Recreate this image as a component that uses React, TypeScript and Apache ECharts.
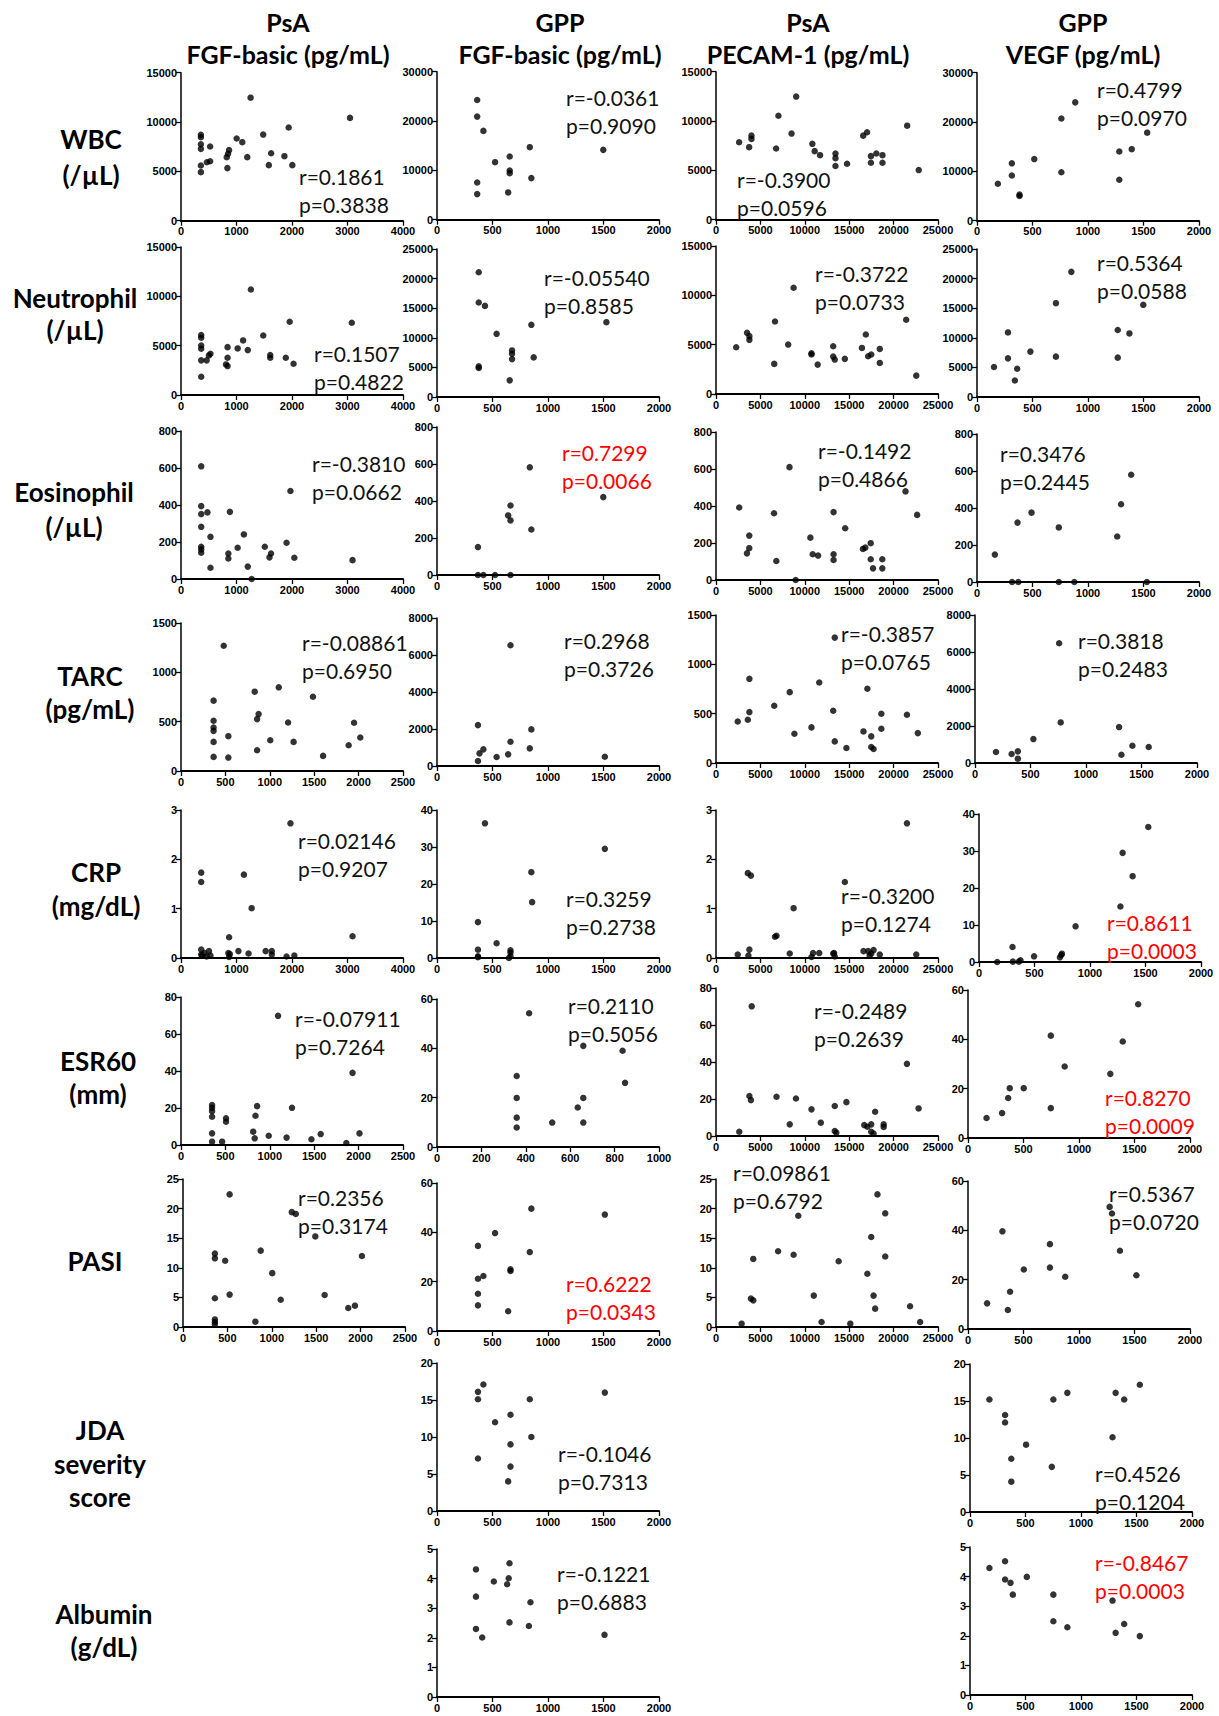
import React, { useEffect, useRef } from "react";
import * as echarts from "echarts";

// ---------- data (x = cytokine, y = clinical value) ----------
const wbcPsaFgf = [[358,8700],[358,8460],[358,7750],[358,7280],[358,5600],[358,4920],[466,5930],[525,6030],[525,7520],[824,6440],[848,6780],[866,7150],[836,5330],[1003,8330],[1104,7960],[1194,6440],[1254,12470],[1481,8730],[1624,6840],[1582,5630],[1863,6540],[1940,9440],[2006,5630],[3045,10420]];
const wbcGppFgf = [[362,24270],[362,20900],[418,18000],[362,7550],[362,5190],[523,11660],[655,12800],[655,9980],[655,9440],[641,5530],[836,14700],[850,8430],[1498,14160]];
const wbcPsaPecam = [[2604,7850],[3733,7350],[3993,8520],[3993,8190],[6771,7220],[7031,10540],[8507,8730],[9028,12480],[10851,7690],[11111,6950],[11719,6540],[13455,6710],[13455,6240],[13455,5440],[14757,5670],[16580,8520],[17014,8860],[17448,6440],[17448,5770],[18056,6710],[18750,6540],[18750,5770],[21528,9530],[22830,5030]];
const wbcGppVegf = [[188,7480],[314,11630],[314,9150],[383,5280],[383,5010],[516,12490],[760,20710],[760,9820],[885,23990],[1282,14030],[1282,8290],[1394,14500],[1533,17840]];

const neuPsaFgf = [[364,6070],[364,5800],[364,5020],[364,4690],[364,3510],[364,1850],[462,3510],[503,4010],[531,4180],[839,4850],[839,3780],[811,3100],[839,2930],[1021,4720],[1119,5530],[1203,4550],[1259,10690],[1482,6030],[1608,3780],[1608,4050],[1888,3780],[1958,7420],[2028,3170],[3077,7320]];
const neuGppFgf = [[376,21070],[376,15960],[432,15390],[376,5170],[376,4890],[537,10670],[676,7870],[676,7300],[676,6400],[655,2810],[850,12190],[871,6690],[1526,12640]];
const neuPsaPecam = [[2273,4740],[3497,6200],[3759,5860],[3759,5490],[6556,3050],[6643,7350],[8129,5010],[8741,10770],[10752,4130],[10752,4000],[11451,2980],[13199,4840],[13199,3790],[13374,3490],[14510,3560],[16434,4670],[16871,6030],[17133,3830],[17483,4000],[18444,4570],[18444,3150],[21416,7520],[22552,1860]];
const neuGppVegf = [[153,5060],[279,10910],[279,6530],[341,2780],[362,4770],[481,7670],[711,15850],[711,6820],[850,21140],[1268,11310],[1268,6650],[1373,10740],[1498,15570]];

const eosPsaFgf = [[364,609],[364,394],[364,351],[364,282],[364,174],[364,160],[364,142],[476,360],[531,228],[531,61],[881,363],[853,138],[853,111],[1021,169],[1133,241],[1203,67],[1273,0],[1510,174],[1622,138],[1594,117],[1902,196],[1972,476],[2042,115],[3091,102]];
const eosGppFgf = [[369,151],[369,0],[418,0],[523,0],[662,0],[641,322],[662,376],[662,295],[836,582],[850,246],[1498,421]];
const eosPsaPecam = [[2613,392],[3484,144],[3745,172],[3745,240],[6533,361],[6794,103],[8275,610],[8972,0],[10627,229],[10889,139],[11498,132],[13240,367],[13240,139],[13240,108],[14547,280],[16551,168],[16812,175],[17422,199],[17422,112],[17683,63],[18728,112],[18728,63],[21341,479],[22648,352]];
const eosGppVegf = [[161,148],[316,0],[372,0],[365,321],[491,375],[737,295],[737,0],[877,0],[1263,246],[1298,420],[1389,580],[1530,0]];

const tarcPsaFgf = [[367,713],[367,509],[367,441],[367,407],[367,295],[367,143],[481,1269],[533,353],[533,136],[830,804],[874,577],[857,526],[857,210],[1005,312],[1101,848],[1206,492],[1268,295],[1486,753],[1600,153],[1888,261],[1949,489],[2019,339]];
const tarcGppFgf = [[369,2211],[383,683],[369,270],[418,899],[537,485],[641,629],[662,1312],[662,6526],[836,953],[850,1978],[1512,503]];
const tarcPsaPecam = [[2448,421],[3584,438],[3759,516],[3759,853],[6556,580],[8304,718],[8829,297],[10752,361],[11626,816],[13199,529],[13374,219],[13374,1271],[14685,152],[16608,320],[17045,752],[17483,270],[17483,162],[17745,142],[18619,499],[18619,347],[21503,489],[22727,303]];
const tarcGppVegf = [[189,593],[330,485],[386,629],[386,234],[526,1294],[758,6472],[772,2193],[1298,1942],[1319,449],[1418,935],[1565,863]];

const crpPsaFgf = [[364,1.73],[364,1.54],[364,0.17],[364,0.07],[420,0.10],[462,0.03],[504,0.14],[531,0.05],[867,0.42],[853,0.10],[867,0.02],[1035,0.14],[1133,1.69],[1217,0.09],[1273,1.01],[1525,0.14],[1636,0.14],[1636,0.07],[1902,0.03],[1972,2.73],[2042,0.05],[3091,0.44],[380,0.05],[880,0.08]];
const crpGppFgf = [[369,9.7],[369,2.25],[369,0.45],[432,36.4],[537,4.0],[662,2.07],[662,1.5],[648,0],[850,23.2],[857,15.1],[1512,29.5],[369,0.2],[662,0.5]];
const crpPsaPecam = [[2448,0.07],[3584,1.72],[3934,1.67],[3759,0.17],[6643,0.43],[6818,0.45],[8304,0.09],[8741,1.01],[10752,0.02],[10926,0.10],[11626,0.10],[13199,0.09],[13374,0.03],[14510,1.54],[16608,0.14],[17133,0.14],[17483,0.09],[17745,0.16],[18444,0.07],[21503,2.73],[22552,0.07],[3650,0.05],[13300,0.1],[17300,0.05]];
const crpGppVegf = [[164,0],[302,4.05],[305,0.1],[359,0.1],[374,0.45],[496,1.53],[729,1.26],[741,1.9],[747,2.25],[870,9.64],[1274,15.0],[1294,29.5],[1384,23.2],[1525,36.5]];

const esrPsaFgf = [[350,21.6],[350,20.1],[350,18.3],[350,15.3],[350,6.3],[350,1.8],[463,1.8],[507,14.4],[507,12.6],[813,7.2],[830,3.6],[839,15.8],[857,21.0],[988,5.0],[1093,69.8],[1189,4.0],[1250,20.1],[1469,3.1],[1573,5.9],[1862,1.1],[1932,39.0],[2010,6.3]];
const esrGppFgf = [[359,28.8],[359,19.9],[359,11.9],[359,7.9],[415,54.2],[519,9.9],[634,16.0],[659,41.0],[659,19.9],[659,9.9],[836,39.0],[847,26.0]];
const esrPsaPecam = [[2622,2.3],[3759,21.6],[3934,19.4],[4021,70.1],[6818,21.2],[8304,6.3],[9003,20.3],[10752,14.4],[11800,7.2],[13374,16.2],[13374,2.7],[13549,1.8],[14685,18.3],[16696,5.9],[17045,5.0],[17483,6.3],[17483,2.3],[17745,1.3],[17920,13.1],[18881,6.3],[18881,4.9],[21503,39.0],[22815,14.9]];
const esrGppVegf = [[167,8.1],[307,10.1],[362,16.2],[376,20.2],[502,20.2],[746,41.5],[746,12.1],[871,29.0],[1282,26.0],[1394,39.1],[1533,54.2]];

const pasiPsaFgf = [[359,12.4],[359,11.6],[359,4.85],[359,1.28],[359,0.84],[359,0.45],[475,11.2],[525,22.4],[525,5.47],[815,0.9],[875,12.9],[1005,9.1],[1100,4.6],[1225,19.4],[1270,19.1],[1490,15.3],[1595,5.4],[1861,3.2],[1936,3.6],[2015,12.0]];
const pasiGppFgf = [[369,34.5],[369,21.2],[369,15.1],[369,10.4],[418,22.3],[523,39.7],[641,8.0],[662,25.0],[662,24.3],[836,32.0],[850,49.6],[1512,47.2]];
const pasiPsaPecam = [[2885,0.56],[3934,4.8],[4196,4.5],[4196,11.5],[6993,12.8],[8741,12.2],[9266,18.8],[11014,5.3],[11888,0.84],[13811,11.1],[15122,0.56],[17045,9.0],[17483,15.2],[17745,5.3],[17920,3.1],[18182,22.4],[19056,19.2],[19056,11.9],[21853,3.5],[22989,0.84]];
const pasiGppVegf = [[172,10.4],[310,39.6],[359,7.7],[379,15.1],[503,24.1],[738,34.4],[738,24.9],[876,21.2],[1276,49.5],[1297,46.8],[1369,31.7],[1517,21.8]];

const jdaGppFgf = [[369,16.1],[369,15.1],[369,7.1],[418,17.1],[523,12.0],[662,13.0],[662,9.0],[662,6.0],[641,4.0],[836,15.1],[850,10.0],[1512,16.0]];
const jdaGppVegf = [[175,15.2],[316,13.1],[316,12.1],[372,7.2],[372,4.1],[505,9.1],[737,6.1],[751,15.2],[877,16.1],[1284,10.1],[1312,16.1],[1389,15.2],[1530,17.2]];

const albGppFgf = [[351,4.31],[351,3.39],[351,2.30],[407,2.01],[512,3.90],[632,3.81],[646,4.01],[653,4.52],[653,2.52],[828,2.40],[842,3.20],[1509,2.10]];
const albGppVegf = [[175,4.29],[316,4.52],[316,3.90],[365,3.79],[386,3.39],[512,3.99],[751,2.49],[751,3.39],[877,2.29],[1284,3.19],[1312,2.10],[1389,2.40],[1530,1.99]];

// ---------- texts ----------
const colHeaders = [["PsA", "FGF-basic (pg/mL)"], ["GPP", "FGF-basic (pg/mL)"], ["PsA", "PECAM-1 (pg/mL)"], ["GPP", "VEGF (pg/mL)"]];
const rowLabels = [["WBC", "(/µL)"], ["Neutrophil", "(/µL)"], ["Eosinophil", "(/µL)"], ["TARC", "(pg/mL)"], ["CRP", "(mg/dL)"], ["ESR60", "(mm)"], ["PASI"], ["JDA", "severity", "score"], ["Albumin", "(g/dL)"]];

// ---------- layout (pixels) ----------
const colCenters = [288, 560, 808, 1083];
const rowLabelPos = [[91, 139, 36], [75, 298, 32], [74, 492, 35], [90, 676, 33], [96, 872, 34], [98, 1061, 33], [95, 1261, 0], [100, 1430, 33.5], [104, 1614, 33]];

type Panel = { row: number; col: number; data: number[][]; xMax: number; xStep: number; yMax: number; yStep: number; r: string; p: string; tx: number; ty: number; red?: boolean; left: number; top: number };

const P = (row: number, col: number, data: number[][], xMax: number, xStep: number, yMax: number, yStep: number, r: string, p: string, tx: number, ty: number, left: number, top: number, red = false): Panel =>
  ({ row, col, data, xMax, xStep, yMax, yStep, r, p, tx, ty, left, top, red });

const panels: Panel[] = [
  P(0, 0, wbcPsaFgf, 4000, 1000, 15000, 5000, "r=0.1861", "p=0.3838", 299, 176, 181, 72.7),
  P(0, 1, wbcGppFgf, 2000, 500, 30000, 10000, "r=-0.0361", "p=0.9090", 566, 97, 437, 71.7),
  P(0, 2, wbcPsaPecam, 25000, 5000, 15000, 5000, "r=-0.3900", "p=0.0596", 737, 179, 716, 71.7),
  P(0, 3, wbcGppVegf, 2000, 500, 30000, 10000, "r=0.4799", "p=0.0970", 1097, 89, 977, 72.7),

  P(1, 0, neuPsaFgf, 4000, 1000, 15000, 5000, "r=0.1507", "p=0.4822", 314, 353, 181, 247),
  P(1, 1, neuGppFgf, 2000, 500, 25000, 5000, "r=-0.05540", "p=0.8585", 544, 277, 437, 249),
  P(1, 2, neuPsaPecam, 25000, 5000, 15000, 5000, "r=-0.3722", "p=0.0733", 815, 273, 716, 246),
  P(1, 3, neuGppVegf, 2000, 500, 25000, 5000, "r=0.5364", "p=0.0588", 1097, 262, 977, 249),

  P(2, 0, eosPsaFgf, 4000, 1000, 800, 200, "r=-0.3810", "p=0.0662", 312, 463, 181, 431),
  P(2, 1, eosGppFgf, 2000, 500, 800, 200, "r=0.7299", "p=0.0066", 562, 452, 437, 427, true),
  P(2, 2, eosPsaPecam, 25000, 5000, 800, 200, "r=-0.1492", "p=0.4866", 818, 450, 716, 432),
  P(2, 3, eosGppVegf, 2000, 500, 800, 200, "r=0.3476", "p=0.2445", 1000, 453, 977, 434),

  P(3, 0, tarcPsaFgf, 2500, 500, 1500, 500, "r=-0.08861", "p=0.6950", 302, 642, 181, 623),
  P(3, 1, tarcGppFgf, 2000, 500, 8000, 2000, "r=0.2968", "p=0.3726", 564, 640, 437, 618),
  P(3, 2, tarcPsaPecam, 25000, 5000, 1500, 500, "r=-0.3857", "p=0.0765", 841, 633, 716, 615),
  P(3, 3, tarcGppVegf, 2000, 500, 8000, 2000, "r=0.3818", "p=0.2483", 1078, 640, 975, 615),

  P(4, 0, crpPsaFgf, 4000, 1000, 3, 1, "r=0.02146", "p=0.9207", 298, 840, 181, 810),
  P(4, 1, crpGppFgf, 2000, 500, 40, 10, "r=0.3259", "p=0.2738", 566, 898, 437, 810),
  P(4, 2, crpPsaPecam, 25000, 5000, 3, 1, "r=-0.3200", "p=0.1274", 841, 895, 716, 810),
  P(4, 3, crpGppVegf, 2000, 500, 40, 10, "r=0.8611", "p=0.0003", 1107, 922, 979, 814, true),

  P(5, 0, esrPsaFgf, 2500, 500, 80, 20, "r=-0.07911", "p=0.7264", 295, 1018, 181, 997),
  P(5, 1, esrGppFgf, 1000, 200, 60, 20, "r=0.2110", "p=0.5056", 568, 1005, 437, 999),
  P(5, 2, esrPsaPecam, 25000, 5000, 80, 20, "r=-0.2489", "p=0.2639", 814, 1010, 716, 988),
  P(5, 3, esrGppVegf, 2000, 500, 60, 20, "r=0.8270", "p=0.0009", 1105, 1097, 968, 990, true),

  P(6, 0, pasiPsaFgf, 2500, 500, 25, 5, "r=0.2356", "p=0.3174", 298, 1197, 183, 1179),
  P(6, 1, pasiGppFgf, 2000, 500, 60, 20, "r=0.6222", "p=0.0343", 566, 1283, 437, 1183, true),
  P(6, 2, pasiPsaPecam, 25000, 5000, 25, 5, "r=0.09861", "p=0.6792", 733, 1172, 716, 1179),
  P(6, 3, pasiGppVegf, 2000, 500, 60, 20, "r=0.5367", "p=0.0720", 1109, 1193, 968, 1181),

  P(7, 1, jdaGppFgf, 2000, 500, 20, 5, "r=-0.1046", "p=0.7313", 558, 1453, 437, 1363),
  P(7, 3, jdaGppVegf, 2000, 500, 20, 5, "r=0.4526", "p=0.1204", 1095, 1473, 970, 1364),

  P(8, 1, albGppFgf, 2000, 500, 5, 1, "r=-0.1221", "p=0.6883", 557, 1573, 437, 1549),
  P(8, 3, albGppVegf, 2000, 500, 5, 1, "r=-0.8467", "p=0.0003", 1095, 1562, 970, 1547, true),
];

const PW = 222;
const PH = 148;
const tickFont = { fontFamily: "Liberation Sans, Arial, sans-serif", fontWeight: "bold" as const, fontSize: 11, color: "#000" };
const labelFont = "Lato, 'Open Sans', sans-serif";
const plain = (v: number) => String(v);

function buildOption() {
  const grid: any[] = [];
  const xAxis: any[] = [];
  const yAxis: any[] = [];
  const series: any[] = [];
  const graphic: any[] = [];

  panels.forEach((pn, i) => {
    grid.push({ left: pn.left, top: pn.top, width: PW, height: PH, containLabel: false, outerBoundsMode: "none" });
    xAxis.push({
      type: "value", gridIndex: i, min: 0, max: pn.xMax, interval: pn.xStep,
      axisLine: { show: true, onZero: false, lineStyle: { color: "#000", width: 2 } },
      axisTick: { show: true, length: 5, lineStyle: { color: "#000", width: 1.3 } },
      axisLabel: { ...tickFont, formatter: plain, margin: 5, showMinLabel: true, showMaxLabel: true, hideOverlap: false },
      splitLine: { show: false },
    });
    yAxis.push({
      type: "value", gridIndex: i, min: 0, max: pn.yMax, interval: pn.yStep,
      axisLine: { show: true, onZero: false, lineStyle: { color: "#000", width: 1.5 } },
      axisTick: { show: true, length: 5, lineStyle: { color: "#000", width: 1.3 } },
      axisLabel: { ...tickFont, formatter: plain, margin: 4, showMinLabel: true, showMaxLabel: true },
      splitLine: { show: false },
    });
    series.push({
      type: "scatter", xAxisIndex: i, yAxisIndex: i, data: pn.data,
      symbol: "circle", symbolSize: 6.5, itemStyle: { color: "#000" }, clip: false,
    });
    const fill = pn.red ? "#ff0000" : "#111";
    [pn.r, pn.p].forEach((t, k) => {
      graphic.push({
        type: "text", x: pn.tx, y: pn.ty + k * 28, z: 100,
        style: { text: t, fill, fontFamily: labelFont, fontSize: 21, fontWeight: "normal", align: "left", verticalAlign: "middle" },
      });
    });
  });

  colHeaders.forEach((lines, c) => {
    lines.forEach((t, k) => {
      graphic.push({
        type: "text", x: colCenters[c], y: 22 + k * 32,
        style: { text: t, fill: "#000", fontFamily: labelFont, fontSize: 25, fontWeight: "bold", align: "center", verticalAlign: "middle" },
      });
    });
  });

  rowLabels.forEach((lines, r) => {
    const [cx, cy, gap] = rowLabelPos[r];
    lines.forEach((t, k) => {
      graphic.push({
        type: "text", x: cx, y: cy + k * gap,
        style: { text: t, fill: "#000", fontFamily: labelFont, fontSize: 26, fontWeight: "bold", align: "center", verticalAlign: "middle" },
      });
    });
  });

  return { animation: false, backgroundColor: "#fff", grid, xAxis, yAxis, series, graphic };
}

export default function App() {
  const ref = useRef<HTMLDivElement>(null);
  useEffect(() => {
    if (!ref.current) return;
    const chart = echarts.init(ref.current, null, { renderer: "svg" });
    chart.setOption(buildOption() as any);
    return () => chart.dispose();
  }, []);
  return <div ref={ref} style={{ position: "absolute", left: 0, top: 0, width: 1219, height: 1716, background: "#fff" }} />;
}
